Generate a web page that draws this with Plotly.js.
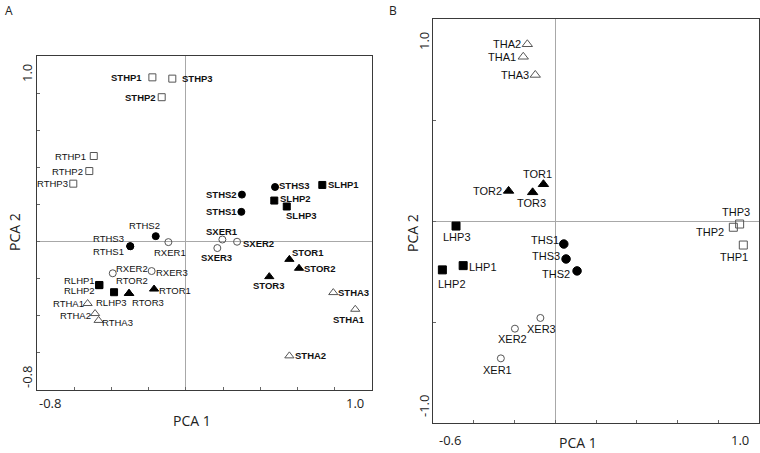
<!DOCTYPE html>
<html>
<head>
<meta charset="utf-8">
<script src="https://cdn.plot.ly/plotly-3.0.1.min.js"></script>
<style>html,body{margin:0;padding:0;background:#fff;}#chart{width:760px;height:453px;}</style>
</head>
<body>
<div id="chart"></div>
<script>
// ---------- DATA ----------
// Panel A
var labelsA = ['STHP1','STHP2','STHP3','RTHP1','RTHP2','RTHP3',
               'SLHP1','SLHP2','SLHP3','RLHP1','RLHP2','RLHP3',
               'STHS1','STHS2','STHS3','RTHS1','RTHS2','RTHS3',
               'SXER1','SXER2','SXER3','RXER1','RXER2','RXER3',
               'STOR1','STOR2','STOR3','RTOR1','RTOR2','RTOR3',
               'STHA1','STHA2','STHA3','RTHA1','RTHA2','RTHA3'];
var pc1A = [-0.180,-0.130,-0.073,-0.495,-0.519,-0.605,
             0.733, 0.475, 0.542,-0.465,-0.466,-0.386,
             0.298, 0.301, 0.479,-0.299,-0.162,-0.299,
             0.196, 0.275, 0.169,-0.094,-0.393,-0.184,
             0.556, 0.608, 0.448,-0.171,-0.306,-0.305,
             0.910, 0.556, 0.792,-0.528,-0.488,-0.469];
var pc2A = [ 0.885, 0.778, 0.878, 0.461, 0.380, 0.312,
             0.305, 0.221, 0.189,-0.234,-0.235,-0.273,
             0.160, 0.253, 0.294,-0.025, 0.029,-0.025,
             0.011,-0.001,-0.035,-0.003,-0.171,-0.159,
            -0.096,-0.144,-0.189,-0.256,-0.279,-0.280,
            -0.365,-0.616,-0.275,-0.334,-0.388,-0.425];
// Panel B
var labelsB = ['THP1','THP2','THP3','LHP1','LHP2','LHP3',
               'THS1','THS2','THS3','XER1','XER2','XER3',
               'TOR1','TOR2','TOR3','THA1','THA2','THA3'];
var pc1B = [ 0.923, 0.874, 0.905,-0.452,-0.554,-0.487,
             0.042, 0.107, 0.053,-0.267,-0.198,-0.073,
            -0.058,-0.229,-0.111,-0.157,-0.137,-0.098];
var pc2B = [-0.119,-0.031,-0.015,-0.221,-0.242,-0.025,
            -0.114,-0.247,-0.188,-0.680,-0.533,-0.480,
             0.182, 0.149, 0.142, 0.813, 0.875, 0.723];
// Axis end labels
var tickTextA = {xmin:'-0.8', xmax:'1.0', ymin:'-0.8', ymax:'1.0'};
var tickTextB = {xmin:'-0.6', xmax:'1.0', ymin:'-1.0', ymax:'1.0'};
var axisTitleX = 'PCA 1', axisTitleY = 'PCA 2';

// ---------- STYLE ----------
// label offsets (px, label centre relative to its point)
var offA = [[-25.6,0],[-21.2,0],[24.7,0],[-23.2,0],[-21.8,0],[-20.5,0],
            [21,0],[21.4,-2],[14.3,9],[-20,-4.2],[-20,5.6],[-3,10.3],
            [-20.3,0],[-20.7,0],[19.7,-2],[-21.6,5.8],[-11.4,-10.7],[-21.6,-7.6],
            [-0.6,-8.3],[21,1.7],[-0.8,9.3],[1.2,10],[19,-4.5],[20.3,1.6],
            [19,-6.7],[20.5,0],[0.2,8.7],[20.7,1],[3.5,-13],[18.7,9.3],
            [-6.3,10],[20.7,0],[20.7,0],[-18.7,0],[-20,1.7],[19.3,2]];
var offB = [[-9.3,11.7],[-23.3,4.4],[-3.7,-11.7],[20,1],[9.7,14],[0.5,11.3],
            [-18.8,-4],[-21.2,3.3],[-19.7,-3],[-3,11.7],[-2.2,10.6],[1.5,11.3],
            [-5.5,-10],[-21.3,0],[-0.8,11],[-21.3,0],[-20.3,0],[-20,0]];
var groupStyle = {
  THP:{symbol:'square-open', color:'#555'},
  LHP:{symbol:'square', color:'#000'},
  THS:{symbol:'circle', color:'#000'},
  XER:{symbol:'circle-open', color:'#555'},
  TOR:{symbol:'triangle-up', color:'#000'},
  THA:{symbol:'triangle-up-open', color:'#555'}
};
var groupOrder = ['THP','LHP','THS','XER','TOR','THA'];
var sizeA = {THP:7, LHP:7, THS:7, XER:7, TOR:8, THA:8};
var sizeB = {THP:8, LHP:8, THS:8.5, XER:7, TOR:9, THA:9};

var W = 760, H = 453;
function dx(a,b){return [a/W, b/W];}
function dy(top,bottom){return [(H-bottom)/H, (H-top)/H];}

var traces = [];
var annotations = [];

function addPanel(labels, xs, ys, groupFn, sizes, offs, xa, ya, fontSize, boldFn){
  groupOrder.forEach(function(g){
    var px=[], py=[];
    labels.forEach(function(l,i){ if(groupFn(l)===g){ px.push(xs[i]); py.push(ys[i]); } });
    var st = groupStyle[g];
    traces.push({
      type:'scatter', mode:'markers', x:px, y:py, xaxis:xa, yaxis:ya,
      hoverinfo:'skip', showlegend:false, cliponaxis:false,
      marker:{symbol:st.symbol, size:sizes[g], color:st.color,
              line:{color:st.color, width:1}}
    });
  });
  labels.forEach(function(l,i){
    annotations.push({
      xref:xa, yref:ya, x:xs[i], y:ys[i], showarrow:false,
      text: boldFn(l) ? '<b>'+l+'</b>' : l,
      xanchor:'center', yanchor:'middle',
      xshift:offs[i][0], yshift:-offs[i][1],
      font:{family:'Liberation Sans, Arial, sans-serif', size:fontSize, color:'#111'}
    });
  });
}

addPanel(labelsA, pc1A, pc2A, function(l){return l.slice(1,-1);}, sizeA, offA, 'x', 'y', 9.5,
         function(l){return l.charAt(0)==='S';});
addPanel(labelsB, pc1B, pc2B, function(l){return l.slice(0,-1);}, sizeB, offB, 'x2', 'y2', 11,
         function(){return false;});

function paperText(text, x, y, size, angle){
  annotations.push({xref:'paper', yref:'paper', x:x/W, y:(H-y)/H, text:text, showarrow:false,
    xanchor:'center', yanchor:'middle', textangle:angle||0,
    font:{family:'Open Sans, sans-serif', size:size, color:'#222'}});
}
// Panel letters
paperText('A', 9, 10, 12);
paperText('B', 393, 10, 12);
// Panel A axis texts
paperText(tickTextA.ymax, 27, 73, 13, -90);
paperText(tickTextA.ymin, 27, 377, 13, -90);
paperText(tickTextA.xmin, 50, 403, 13);
paperText(tickTextA.xmax, 355, 403, 13);
paperText(axisTitleX, 192, 420, 14);
paperText(axisTitleY, 15, 232, 14, -90);
// Panel B axis texts
paperText(tickTextB.ymax, 424, 41, 13, -90);
paperText(tickTextB.ymin, 424, 406, 13, -90);
paperText(tickTextB.xmin, 450, 440, 13);
paperText(tickTextB.xmax, 740, 440, 13);
paperText(axisTitleX, 578, 442, 14);
paperText(axisTitleY, 413, 233, 14, -90);

function axis(domain, range, dtick){
  return {domain:domain, range:range, dtick:dtick, tick0:0,
    showgrid:false, zeroline:true, zerolinecolor:'#a8a8a8', zerolinewidth:1,
    showline:true, mirror:true, linecolor:'#3a3a3a', linewidth:1,
    ticks:'inside', ticklen:3, tickcolor:'#666', tickwidth:1,
    showticklabels:false, fixedrange:true};
}

var layout = {
  width:W, height:H, margin:{l:0,r:0,t:0,b:0},
  paper_bgcolor:'#fff', plot_bgcolor:'#fff', showlegend:false,
  xaxis: Object.assign(axis(dx(37,372), [-0.8,1.0], 0.2), {anchor:'y'}),
  yaxis: Object.assign(axis(dy(56,390), [-0.8,1.0], 0.2), {anchor:'x'}),
  xaxis2: Object.assign(axis(dx(433,759), [-0.6,1.0], 0.2), {anchor:'y2'}),
  yaxis2: Object.assign(axis(dy(19,423), [-1.0,1.0], 0.5), {anchor:'x2'}),
  annotations: annotations
};

Plotly.newPlot('chart', traces, layout, {displayModeBar:false, staticPlot:true});
</script>
</body>
</html>
